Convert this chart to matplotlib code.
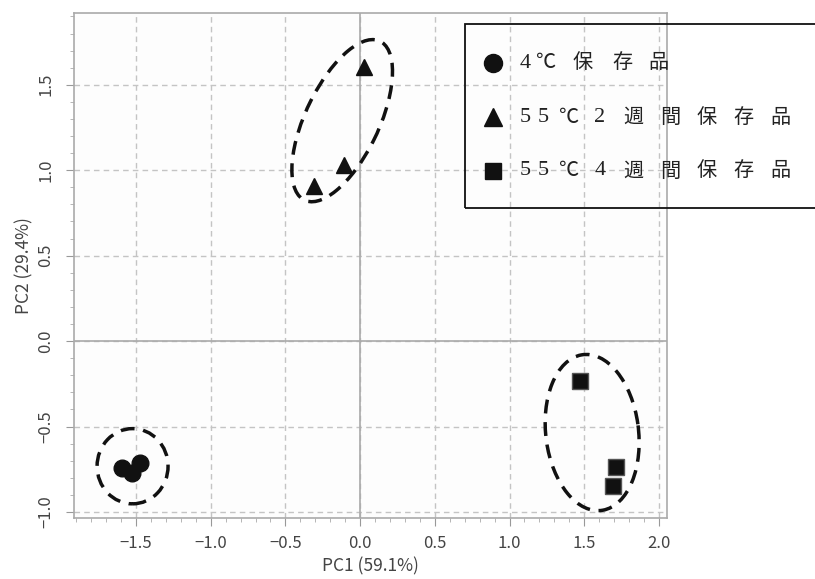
import matplotlib
matplotlib.use("Agg")
import matplotlib.pyplot as plt
from matplotlib.patches import Ellipse, Rectangle
from matplotlib.ticker import MultipleLocator

plt.rcParams['font.family'] = ['Noto Sans CJK JP', 'DejaVu Sans']

# PCA scores
circ_x = [-1.594, -1.527, -1.473]
circ_y = [-0.741, -0.771, -0.712]
tri_x = [0.027, -0.11, -0.31]
tri_y = [1.606, 1.03, 0.91]
sq_x = [1.47, 1.71, 1.69]
sq_y = [-0.235, -0.735, -0.85]

# group ellipses: center x, center y, width, height, angle
ell_circ = (-1.523, -0.732, 0.475, 0.44, 0)
ell_tri = (-0.12, 1.29, 1.06, 0.48, 60)
ell_sq = (1.553, -0.535, 0.92, 0.62, 99)

legend_rows = [
    ('o', ['4', '℃', '保', '存', '品']),
    ('^', ['5', '5', '℃', '2', '週', '間', '保', '存', '品']),
    ('s', ['5', '5', '℃', '4', '週', '間', '保', '存', '品']),
]
xlabel = 'PC1 (59.1%)'
ylabel = 'PC2 (29.4%)'

W, H = 815, 579
fig = plt.figure(figsize=(W / 100, H / 100), dpi=100)
ax = fig.add_axes([74 / W, 1 - 518 / H, (667 - 74) / W, (518 - 13) / H])
ax.set_facecolor('#fdfdfd')

ax.set_xlim(-1.915, 2.054)
ax.set_ylim(-1.035, 1.92)

ax.xaxis.set_major_locator(MultipleLocator(0.5))
ax.yaxis.set_major_locator(MultipleLocator(0.5))
ax.xaxis.set_minor_locator(MultipleLocator(0.1))
ax.yaxis.set_minor_locator(MultipleLocator(0.1))
ax.tick_params(which='major', direction='out', length=6, color='#999999',
               labelcolor='#444444', labelsize=12)
ax.tick_params(axis='x', which='major', pad=6)
ax.tick_params(axis='y', which='major', pad=8)
ax.tick_params(which='minor', direction='out', length=3, color='#aaaaaa')
ax.xaxis.set_major_formatter(plt.FuncFormatter(lambda v, p: f'{v:.1f}'.replace('-', '\u2212')))
ax.yaxis.set_major_formatter(plt.FuncFormatter(lambda v, p: f'{v:.1f}'.replace('-', '\u2212')))
for lab in ax.get_yticklabels():
    lab.set_rotation(90)
    lab.set_va('center')
for s in ax.spines.values():
    s.set_color('#aaaaaa')
    s.set_linewidth(1.2)

ax.grid(True, which='major', linestyle=(0, (4, 3)), color='#c4c4c4', linewidth=1)
ax.axhline(0, color='#aaaaaa', linewidth=1.2, zorder=1)
ax.axvline(0, color='#aaaaaa', linewidth=1.2, zorder=1)
ax.set_axisbelow(True)

ax.plot(circ_x, circ_y, 'o', color='#111111', markersize=12, linestyle='none', zorder=3)
ax.plot(tri_x, tri_y, '^', color='#111111', markersize=12, linestyle='none', zorder=3)
ax.plot(sq_x, sq_y, 's', color='#111111', markeredgecolor='#555555', markersize=11,
        linestyle='none', zorder=3)

for cx, cy, w, h, a in [ell_circ, ell_tri, ell_sq]:
    ax.add_patch(Ellipse((cx, cy), w, h, angle=a, fill=False, edgecolor='#111111',
                         linewidth=2.5, linestyle=(0, (4, 2.5)), zorder=4))

ax.set_xlabel(xlabel, fontsize=12.5, color='#444444', labelpad=4)
ax.set_ylabel(ylabel, fontsize=12.5, color='#444444', labelpad=3)

# legend box drawn by hand (it runs off the right edge)
def px(x, y):
    return x / W, 1 - y / H

fig.patches.append(Rectangle(px(465, 208), (830 - 465) / W, (208 - 24) / H,
                             transform=fig.transFigure, fill=False,
                             edgecolor='#111111', linewidth=1.3, clip_on=False))
row_y = [63, 117, 171]
row_chars_x = [
    [525, 545, 583, 622, 658],
    [525, 543, 568, 600, 633, 670, 707, 743, 780],
    [525, 543, 568, 600, 633, 670, 707, 743, 780],
]
for (mk, chars), yy, xs in zip(legend_rows, row_y, row_chars_x):
    fig.lines.append(plt.Line2D([493 / W], [1 - yy / H], marker=mk, color='#111111',
                                markersize=13 if mk != 's' else 11,
                                transform=fig.transFigure, linestyle='none'))
    for ch, xx in zip(chars, xs):
        fam = ['Liberation Serif', 'Noto Sans CJK JP'] if ch.isdigit() else ['Noto Sans CJK JP', 'DejaVu Sans']
        fig.text(xx / W, 1 - yy / H, ch, ha='center', va='center',
                 fontsize=16 if ch.isdigit() else 14.5,
                 family=fam, color='#222222')

fig.savefig('out.png', dpi=100)
